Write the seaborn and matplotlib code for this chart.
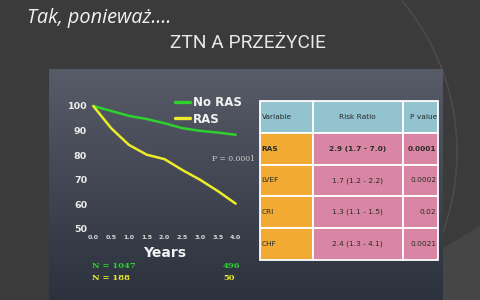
import numpy as np
import pandas as pd
import matplotlib
matplotlib.use("Agg")
import matplotlib.pyplot as plt
import matplotlib.patches as mpatches
import seaborn as sns

# ---- data ----
years = [0.0, 0.5, 1.0, 1.5, 2.0, 2.5, 3.0, 3.5, 4.0]
no_ras = [100, 98, 96, 94.7, 93, 91, 89.9, 89.2, 88.3]
ras = [100, 91, 84.2, 80.2, 78.4, 74, 70, 65.4, 60.3]
series_names = ["No RAS", "RAS"]
y_ticks = [50, 60, 70, 80, 90, 100]
x_ticks = [0.0, 0.5, 1.0, 1.5, 2.0, 2.5, 3.0, 3.5, 4.0]
n_start = ["N = 1047", "N = 188"]
n_end = ["496", "50"]
p_text = "P = 0.0001"

table_header = ["Variable", "Risk Ratio", "P value"]
table_vars = ["RAS", "LVEF", "CRI", "CHF"]
table_rr = ["2.9 (1.7 - 7.0)", "1.7 (1.2 - 2.2)", "1.3 (1.1 - 1.5)", "2.4 (1.3 - 4.1)"]
table_p = ["0.0001", "0.0002", "0.02", "0.0021"]

title1 = "Tak, ponieważ...."
title2 = "ZTN A PRZEŻYCIE"

GREEN = "#2ed12e"
YELLOW = "#ecec2a"

df = pd.DataFrame({
    "Years": years * 2,
    "Survival": no_ras + ras,
    "Group": [series_names[0]] * len(years) + [series_names[1]] * len(years),
})

sns.set_theme(style="white")
plt.rcParams["font.family"] = ["DejaVu Sans"]

W, H = 480, 300
fig = plt.figure(figsize=(4.8, 3.0), dpi=100)
fig.patch.set_facecolor("#3b3b3b")

# background overlay axes in pixel coords
bg = fig.add_axes([0, 0, 1, 1], zorder=0)
bg.set_xlim(0, W)
bg.set_ylim(H, 0)
bg.axis("off")

# decorative arc / light region at right
bg.add_patch(mpatches.Polygon([[443, 248], [480, 226], [480, 300], [443, 300]],
                              closed=True, facecolor="#464646", edgecolor="none"))
arc = mpatches.Arc((222, 152), 470, 470, theta1=-40, theta2=60, color="#4b4b4b", lw=1.2)
bg.add_patch(arc)

# chalkboard panel with vertical gradient
grad = np.linspace(0, 1, 256).reshape(-1, 1)
top = np.array([88, 92, 104]) / 255
bot = np.array([44, 49, 62]) / 255
img = top[None, None, :] * (1 - grad[:, :, None]) + bot[None, None, :] * grad[:, :, None]
bg.imshow(img, extent=[49, 443, 300, 69], aspect="auto", zorder=1)
bg.set_xlim(0, W)
bg.set_ylim(H, 0)

# titles
fig.text(27 / W, 1 - 22.5 / H, title1, color="#f2f2f2", fontsize=14.3, style="italic",
         family="Open Sans", va="baseline", ha="left")
fig.text(170 / W, 1 - 48 / H, title2, color="#e8e8e8", fontsize=13.8,
         family="Roboto", va="baseline", ha="left")

# ---- chart axes ----
x0, x1 = 93.3, 235.7
y0, y1 = 229, 106
ax = fig.add_axes([x0 / W, 1 - y0 / H, (x1 - x0) / W, (y0 - y1) / H], zorder=2)
ax.patch.set_alpha(0)
sns.lineplot(data=df, x="Years", y="Survival", hue="Group",
             palette=[GREEN, YELLOW], linewidth=1.8, ax=ax, legend=True)
for ln in ax.lines:
    ln.set_clip_on(False)
ax.set_xlim(0, 4)
ax.set_ylim(50, 100)
for s in ax.spines.values():
    s.set_visible(False)
ax.set_yticks(y_ticks)
ax.set_yticklabels([str(v) for v in y_ticks], fontsize=6.8, fontweight="bold", color="#ececec")
ax.set_xticks(x_ticks)
ax.set_xticklabels([f"{v:.1f}" for v in x_ticks], fontsize=4.6, fontweight="bold", color="#d8d8d8")
ax.tick_params(axis="y", length=0, pad=4.5)
ax.tick_params(axis="x", length=0, pad=4.5)
ax.set_xlabel("Years", fontsize=10, fontweight="bold", color="#f2f2f2", labelpad=4)
ax.set_ylabel("")

handles, labels = ax.get_legend_handles_labels()
leg = ax.legend(handles, labels, loc="upper left", bbox_to_anchor=(175 / W, 1 - 96 / H),
                bbox_transform=fig.transFigure, frameon=False,
                prop={"weight": "bold", "size": 8.5}, labelcolor="#f2f2f2",
                handlelength=1.3, handletextpad=0.25, borderpad=0, borderaxespad=0,
                labelspacing=0.3)
for h in leg.legend_handles:
    h.set_linewidth(2.4)

fig.text(212 / W, 1 - 159 / H, p_text, fontsize=5.5, family="DejaVu Serif",
         color="#d0d0d0", va="center", ha="left")

# N counts
fig.text(92 / W, 1 - 266 / H, n_start[0], fontsize=6, family="DejaVu Serif",
         fontweight="bold", color=GREEN, va="center", ha="left")
fig.text(92 / W, 1 - 278 / H, n_start[1], fontsize=6, family="DejaVu Serif",
         fontweight="bold", color=YELLOW, va="center", ha="left")
fig.text(240 / W, 1 - 266 / H, n_end[0], fontsize=6, family="DejaVu Serif",
         fontweight="bold", color=GREEN, va="center", ha="right")
fig.text(235 / W, 1 - 278 / H, n_end[1], fontsize=6, family="DejaVu Serif",
         fontweight="bold", color=YELLOW, va="center", ha="right")

# ---- table ----
col_x = [260, 313, 402.5, 438]
row_y = [101, 133, 164.5, 196, 228, 260]
HEAD = "#92c3cf"
ORANGE = "#f1aa32"
PINK = "#d886a3"
for r in range(5):
    for c in range(3):
        if r == 0:
            fc = HEAD
        elif c == 0:
            fc = ORANGE
        else:
            fc = PINK
        bg.add_patch(mpatches.Rectangle((col_x[c], row_y[r]), col_x[c + 1] - col_x[c],
                                        row_y[r + 1] - row_y[r], facecolor=fc,
                                        edgecolor="white", lw=1.3, zorder=3))
txtc = "#2a2a2a"
fs = 5.3
for c, t in enumerate(table_header):
    yc = (row_y[0] + row_y[1]) / 2
    if c == 0:
        bg.text(col_x[0] + 1.5, yc, t, fontsize=fs, color=txtc, va="center", ha="left", zorder=4)
    elif c == 1:
        bg.text((col_x[1] + col_x[2]) / 2, yc, t, fontsize=fs, color=txtc, va="center", ha="center", zorder=4)
    else:
        bg.text(col_x[3] - 1, yc, t, fontsize=fs, color=txtc, va="center", ha="right", zorder=4)
for i in range(4):
    yc = (row_y[i + 1] + row_y[i + 2]) / 2
    fw = "bold" if i == 0 else "normal"
    bg.text(col_x[0] + 1.5, yc, table_vars[i], fontsize=fs, color=txtc, va="center", ha="left",
            fontweight=fw, zorder=4)
    bg.text((col_x[1] + col_x[2]) / 2, yc, table_rr[i], fontsize=fs, color=txtc, va="center",
            ha="center", fontweight=fw, zorder=4)
    bg.text(col_x[3] - 1.5, yc, table_p[i], fontsize=fs, color=txtc, va="center", ha="right",
            fontweight=fw, zorder=4)

fig.savefig("out.png", dpi=100, facecolor=fig.get_facecolor())
